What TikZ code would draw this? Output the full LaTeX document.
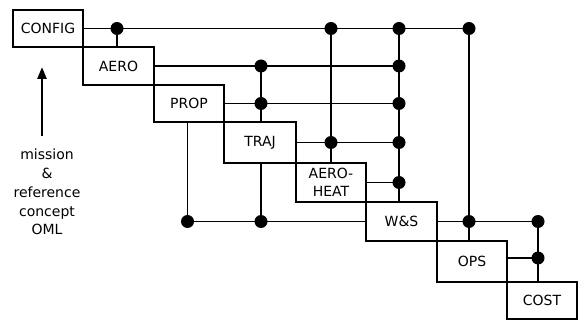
\documentclass[tikz,border=0pt]{standalone}
\usepackage{fontspec}
\setmainfont{DejaVu Sans}
\usetikzlibrary{arrows.meta}
\begin{document}
\begin{tikzpicture}[x=1pt,y=-1pt,line width=1.5pt,
  blk/.style={draw,inner sep=0pt,outer sep=0pt,minimum width=#1,align=center,font=\fontsize{14}{18}\selectfont},
  dot/.style={circle,fill,inner sep=0pt,minimum size=13pt,outer sep=0pt},
  wire/.style={line width=1.5pt}]
\useasboundingbox (0,0) rectangle (578,320);
% boxes
\node[blk=70pt,minimum height=37pt] (config) at (48,28.5) {CONFIG};
\node[blk=71pt,minimum height=38pt] (aero) at (118.5,66) {AERO};
\node[blk=70pt,minimum height=37pt] (prop) at (189,103.5) {PROP};
\node[blk=72pt,minimum height=41pt] (traj) at (260,142.5) {TRAJ};
\node[blk=70pt,minimum height=39pt] (aeroheat) at (331,182.5) {AERO-\\HEAT};
\node[blk=71pt,minimum height=39pt] (ws) at (401.5,221.5) {W\&S};
\node[blk=70pt,minimum height=41pt] (ops) at (472,261.5) {OPS};
\node[blk=70pt,minimum height=37pt] (cost) at (542,300.5) {COST};
% dots
\node[dot] (d11) at (117,28.5) {};
\node[dot] (d12) at (331,28.5) {};
\node[dot] (d13) at (399,28.5) {};
\node[dot] (d14) at (469,28.5) {};
\node[dot] (d21) at (261,66) {};
\node[dot] (d22) at (399,66) {};
\node[dot] (d31) at (261,103.5) {};
\node[dot] (d32) at (399,103.5) {};
\node[dot] (d41) at (331,142.5) {};
\node[dot] (d42) at (399,142.5) {};
\node[dot] (d51) at (399,182.5) {};
\node[dot] (d61) at (469,221.5) {};
\node[dot] (d62) at (538,221.5) {};
\node[dot] (d71) at (538,258) {};
\node[dot] (b1) at (187.5,221.5) {};
\node[dot] (b2) at (261,221.5) {};
% wires
\draw[wire] (config.east) -- (d14.center);
\draw[wire] (d11.center) -- (d11 |- aero.north);
\draw[wire] (aero.east) -- (d22.center);
\draw[wire] (prop.east) -- (d32.center);
\draw[wire] (d21.center) -- (d31 |- traj.north);
\draw[wire] (traj.east) -- (d42.center);
\draw[wire] (d12.center) -- (d41 |- aeroheat.north);
\draw[wire] (aeroheat.east) -- (d51.center);
\draw[wire] (d13.center) -- (d51 |- ws.north);
\draw[wire] (ws.east) -- (d62.center);
\draw[wire] (d14.center) -- (d61 |- ops.north);
\draw[wire] (ops.east |- d71) -- (d71.center);
\draw[wire] (d62.center) -- (d71 |- cost.north);
\draw[wire] (b1 |- prop.south) -- (b1.center) -- (ws.west);
\draw[wire] (b2 |- traj.south) -- (b2.center);
% input arrow
\coordinate (arrS) at (42,136);
\coordinate (arrE) at (42,67);
\draw[line width=2.5pt,-{Triangle[length=12pt,width=9pt]}] (arrS) -- (arrE);
\node[align=center,font=\fontsize{14}{18.8}\selectfont] (mission) at (47,192) {mission\\\&\\reference\\concept\\OML};
\end{tikzpicture}
\end{document}
